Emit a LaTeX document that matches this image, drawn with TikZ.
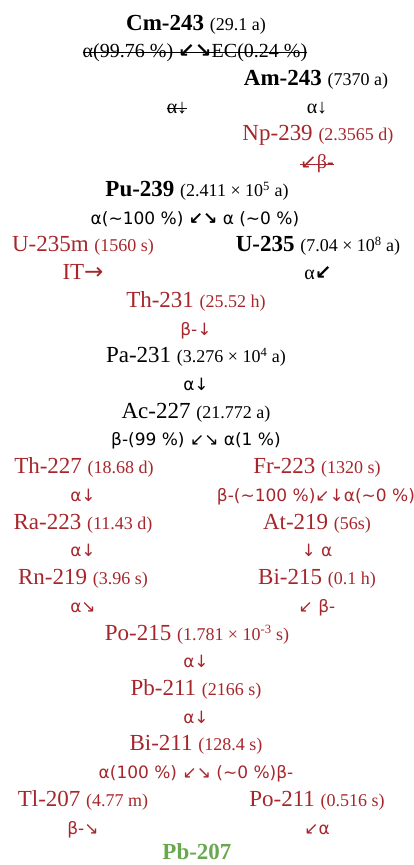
\documentclass[tikz,border=0pt]{standalone}
\usepackage{fontspec}
\setmainfont{Liberation Serif}
\newfontfamily\arrfont{DejaVu Sans}
\definecolor{DecayRed}{RGB}{166,38,43}
\definecolor{StableGreen}{RGB}{106,168,79}
\newcommand{\hl}[1]{{\fontsize{18}{18}\selectfont #1}}
\newcommand{\arr}[1]{{\arrfont #1}}
\newcommand{\barr}[1]{{\arrfont\bfseries #1}}
\newcommand{\tld}{\textasciitilde}
\tikzset{
  nuc/.style={anchor=base, inner sep=0pt, font=\fontsize{23}{23}\selectfont},
  chain/.style={nuc, text=DecayRed},
  decay/.style={anchor=base, inner sep=0pt, font=\arrfont\fontsize{17}{17}\selectfont},
  chaindecay/.style={decay, text=DecayRed},
  olddecay/.style={anchor=base, inner sep=0pt, font=\fontsize{20}{20}\selectfont},
  strike/.style={line width=0.8pt}
}

\begin{document}
\begin{tikzpicture}[x=1pt, y=-27.73pt]
  \useasboundingbox (0,-1.082) rectangle (414,30.113);
  % Cm-243 / Am-243 branch (struck out)
  \node[nuc] (cm243) at (196,0) {\textbf{Cm-243} \hl{(29.1 a)}};
  \node[olddecay] (cmdec) at (195,1) {α(99.76 \%) \barr{↙↘}EC(0.24 \%)};
  \node[nuc] (am243) at (316,2) {\textbf{Am-243} \hl{(7370 a)}};
  \node[olddecay] (cmalpha) at (177,3) {α↓};
  \node[olddecay] (amalpha) at (317,3) {α↓};
  \node[chain] (np239) at (318,4) {Np-239 \hl{(2.3565 d)}};
  \node[olddecay, text=DecayRed] (npbeta) at (317,5) {\arr{↙}β-};

  \draw[strike] ([yshift=5pt]cmdec.base west) -- ([yshift=5pt]cmdec.base east);
  \draw[strike] ([yshift=5pt]cmalpha.base west) -- ([yshift=5pt]cmalpha.base east);
  \draw[strike, DecayRed] ([yshift=4pt]npbeta.base west) -- ([yshift=4pt]npbeta.base east);

  % Pu-239 and U-235
  \node[nuc] (pu239) at (197,6) {\textbf{Pu-239} \hl{(2.411 × 10\textsuperscript{5} a)}};
  \node[decay] (pudec) at (195,7) {α(\tld100 \%) \barr{↙↘} α (\tld0 \%)};
  \node[chain] (u235m) at (83,8) {U-235m \hl{(1560 s)}};
  \node[nuc] (u235) at (318,8) {\textbf{U-235} \hl{(7.04 × 10\textsuperscript{8} a)}};
  \node[chain] (uit) at (83,9) {IT\arr{→}};
  \node[olddecay] (ualpha) at (318,9) {α\barr{↙}};

  % main chain
  \node[chain] (th231) at (196,10) {Th-231 \hl{(25.52 h)}};
  \node[chaindecay] (thbeta) at (196,11) {β-↓};
  \node[nuc] (pa231) at (196,12) {Pa-231 \hl{(3.276 × 10\textsuperscript{4} a)}};
  \node[decay] (paalpha) at (196,13) {α↓};
  \node[nuc] (ac227) at (196,14) {Ac-227 \hl{(21.772 a)}};
  \node[decay] (acdec) at (196,15) {β-(99 \%) ↙↘ α(1 \%)};

  % two branches of Ac-227
  \node[chain] (th227) at (84,16) {Th-227 \hl{(18.68 d)}};
  \node[chain] (fr223) at (317,16) {Fr-223 \hl{(1320 s)}};
  \node[chaindecay] (thalpha) at (83,17) {α↓};
  \node[chaindecay] (frdec) at (316,17) {β-(\tld100 \%)↙↓α(\tld0 \%)};
  \node[chain] (ra223) at (83,18) {Ra-223 \hl{(11.43 d)}};
  \node[chain] (at219) at (317,18) {At-219 \hl{(56s)}};
  \node[chaindecay] (raalpha) at (83,19) {α↓};
  \node[chaindecay] (atalpha) at (317,19) {↓ α};
  \node[chain] (rn219) at (83,20) {Rn-219 \hl{(3.96 s)}};
  \node[chain] (bi215) at (317,20) {Bi-215 \hl{(0.1 h)}};
  \node[chaindecay] (rnalpha) at (83,21) {α↘};
  \node[chaindecay] (bibeta) at (317,21) {↙ β-};

  % down to Pb-207
  \node[chain] (po215) at (197,22) {Po-215 \hl{(1.781 × 10\textsuperscript{-3} s)}};
  \node[chaindecay] (poalpha) at (196,23) {α↓};
  \node[chain] (pb211) at (196,24) {Pb-211 \hl{(2166 s)}};
  \node[chaindecay] (pbalpha) at (196,25) {α↓};
  \node[chain] (bi211) at (196,26) {Bi-211 \hl{(128.4 s)}};
  \node[chaindecay] (bidec) at (196,27) {α(100 \%) ↙↘ (\tld0 \%)β-};
  \node[chain] (tl207) at (83,28) {Tl-207 \hl{(4.77 m)}};
  \node[chain] (po211) at (317,28) {Po-211 \hl{(0.516 s)}};
  \node[chaindecay] (tlbeta) at (83,29) {β-↘};
  \node[chaindecay] (poalpha2) at (317,29) {↙α};
  \node[nuc, text=StableGreen] (pb207) at (197,29.93) {\textbf{Pb-207}};
\end{tikzpicture}
\end{document}
